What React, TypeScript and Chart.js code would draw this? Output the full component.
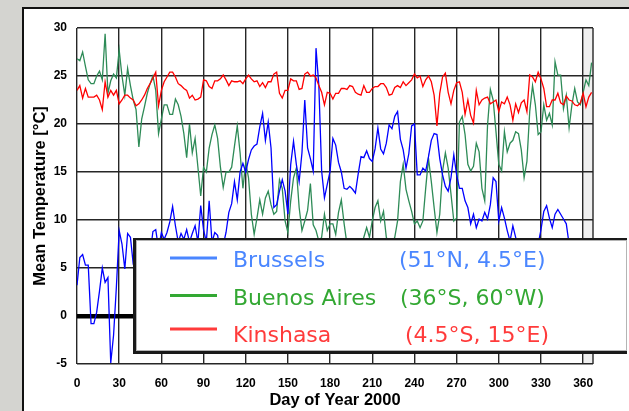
import { useEffect, useRef } from "react";
import { Chart, registerables } from "chart.js";

Chart.register(...registerables);

// Day of year (sample every 2 days)
const DAYS = [
  0, 2, 4, 6, 8, 10, 12, 14, 16, 18,
  20, 22, 24, 26, 28, 30, 32, 34, 36, 38,
  40, 42, 44, 46, 48, 50, 52, 54, 56, 58,
  60, 62, 64, 66, 68, 70, 72, 74, 76, 78,
  80, 82, 84, 86, 88, 90, 92, 94, 96, 98,
  100, 102, 104, 106, 108, 110, 112, 114, 116, 118,
  120, 122, 124, 126, 128, 130, 132, 134, 136, 138,
  140, 142, 144, 146, 148, 150, 152, 154, 156, 158,
  160, 162, 164, 166, 168, 170, 172, 174, 176, 178,
  180, 182, 184, 186, 188, 190, 192, 194, 196, 198,
  200, 202, 204, 206, 208, 210, 212, 214, 216, 218,
  220, 222, 224, 226, 228, 230, 232, 234, 236, 238,
  240, 242, 244, 246, 248, 250, 252, 254, 256, 258,
  260, 262, 264, 266, 268, 270, 272, 274, 276, 278,
  280, 282, 284, 286, 288, 290, 292, 294, 296, 298,
  300, 302, 304, 306, 308, 310, 312, 314, 316, 318,
  320, 322, 324, 326, 328, 330, 332, 334, 336, 338,
  340, 342, 344, 346, 348, 350, 352, 354, 356, 358,
  360, 362, 364, 366,
];

const BRUSSELS = [
  3.2, 6.1, 6.4, 5.3, 5.3, -0.8, -0.8, 0.4, 2.6, 5.0,
  3.5, 4.0, -4.9, -2.0, 3.0, 8.9, 7.5, 4.9, 8.6, 8.2,
  5.4, 5.0, 3.5, 5.5, 7.0, 4.5, 6.5, 8.8, 9.0, 7.0,
  8.7, 8.0, 8.7, 9.8, 11.4, 9.4, 7.7, 8.6, 8.0, 9.0,
  7.7, 8.6, 9.4, 7.7, 11.5, 9.0, 7.7, 12.0, 7.7, 8.7,
  8.4, 6.7, 7.4, 8.7, 10.8, 11.7, 14.0, 12.1, 15.0, 15.9,
  15.0, 16.3, 17.3, 17.7, 17.9, 19.7, 21.1, 18.3, 20.2, 17.5,
  11.3, 11.6, 13.0, 14.2, 13.0, 10.6, 15.8, 18.2, 15.8, 14.0,
  17.0, 22.5, 17.5, 16.4, 15.1, 27.9, 24.0, 15.1, 12.3, 13.7,
  15.1, 18.5, 17.8, 16.0, 15.0, 13.3, 13.2, 13.5, 13.2, 12.8,
  14.8, 16.6, 16.5, 17.2, 16.4, 16.1, 17.4, 19.6, 17.4, 16.9,
  18.0, 19.9, 19.5, 20.8, 21.3, 18.4, 17.3, 15.4, 16.9, 19.8,
  20.0, 14.7, 14.7, 15.4, 15.1, 16.6, 18.3, 19.0, 18.9, 16.4,
  14.7, 13.5, 13.0, 14.4, 16.8, 14.7, 13.3, 13.3, 12.0, 11.3,
  9.6, 10.6, 9.2, 10.1, 9.9, 10.8, 10.1, 11.6, 14.4, 14.0,
  9.9, 11.3, 10.2, 8.9, 7.8, 9.4, 8.2, 7.0, 6.0, 5.0,
  6.5, 5.5, 4.0, 6.0, 7.5, 9.0, 10.9, 11.5, 10.2, 9.2,
  10.6, 11.1, 10.6, 10.1, 9.6, 7.5, 6.0, 7.0, 5.0, 4.5,
  6.0, 5.5, 4.0, 3.5,
];

const BUENOS_AIRES = [
  26.8, 26.6, 27.5, 26.0, 24.6, 24.2, 24.2, 25.0, 25.5, 24.6,
  29.4, 23.2, 24.5, 25.2, 24.8, 27.7, 25.0, 23.0, 25.8, 24.0,
  22.5, 21.5, 17.6, 20.5, 21.8, 23.2, 24.2, 25.0, 23.5, 19.0,
  20.5, 22.0, 22.0, 21.0, 21.0, 22.6, 22.0, 20.8, 19.0, 16.5,
  20.0, 17.0, 18.5, 15.5, 12.5, 15.5, 15.0, 17.5, 18.9, 19.9,
  18.5, 15.5, 13.4, 15.0, 15.0, 15.5, 17.7, 19.8, 17.0, 13.3,
  16.0, 14.4, 10.6, 8.5, 10.2, 12.1, 10.6, 12.3, 13.0, 11.6,
  10.6, 10.9, 14.2, 13.3, 9.9, 8.7, 12.0, 14.4, 15.4, 11.3,
  8.9, 9.9, 11.0, 13.8, 9.5, 8.9, 7.8, 8.2, 10.6, 8.9,
  9.6, 9.6, 8.5, 10.8, 12.1, 9.6, 7.5, 6.5, 7.2, 5.5,
  6.8, 7.0, 8.2, 9.2, 8.2, 9.9, 11.3, 12.0, 9.9, 10.9,
  8.2, 7.5, 7.5, 8.2, 9.9, 14.0, 15.8, 13.2, 12.0, 10.9,
  9.6, 9.9, 9.2, 9.9, 13.3, 16.4, 14.0, 11.3, 8.7, 10.6,
  15.1, 17.0, 15.4, 12.7, 9.9, 10.2, 20.2, 20.8, 18.9, 15.8,
  15.1, 15.6, 18.0, 17.1, 13.3, 12.0, 19.9, 23.6, 22.5, 19.2,
  15.8, 15.1, 19.2, 17.1, 18.0, 18.3, 19.2, 19.0, 17.3, 14.4,
  16.1, 21.3, 24.0, 22.0, 18.9, 19.2, 22.0, 20.4, 21.1, 19.9,
  26.5, 25.1, 25.1, 21.6, 23.0, 19.6, 22.0, 23.7, 22.3, 22.0,
  23.3, 24.6, 24.0, 26.4,
];

const KINSHASA = [
  23.5, 24.0, 22.7, 23.7, 22.8, 22.8, 22.8, 23.0, 22.5, 21.5,
  24.4, 22.8, 23.5, 23.0, 23.5, 22.1, 22.5, 23.0, 23.0, 22.7,
  22.5, 21.9, 22.1, 22.5, 23.0, 23.7, 24.2, 24.8, 25.4, 21.9,
  23.5, 24.4, 24.9, 25.4, 25.4, 24.9, 24.2, 24.0, 23.7, 23.5,
  22.7, 23.0, 22.5, 22.6, 22.8, 24.6, 24.5, 23.9, 23.7, 24.5,
  24.5, 24.7, 25.1, 24.6, 24.0, 24.5, 24.4, 24.4, 24.5, 24.2,
  24.7, 25.1, 24.7, 24.4, 24.5, 23.9, 24.3, 23.8, 24.4, 24.4,
  25.2, 25.4, 23.2, 22.7, 23.5, 23.5, 24.7, 24.5, 24.5, 23.6,
  23.7, 25.2, 25.4, 25.0, 25.1, 24.8, 24.0, 23.3, 22.0, 23.3,
  23.2, 22.6, 23.2, 23.2, 23.7, 23.7, 23.6, 24.0, 23.9, 23.3,
  23.1, 23.0, 24.0, 23.3, 23.3, 23.7, 23.9, 23.9, 24.2, 24.2,
  23.8, 23.0, 23.1, 23.8, 24.0, 23.8, 24.4, 24.0, 24.3, 24.6,
  25.2, 24.8, 25.0, 23.9, 24.6, 25.0, 24.4, 23.0, 19.8, 23.2,
  24.9, 25.3, 23.3, 22.1, 23.5, 24.3, 24.4, 23.3, 21.0, 22.5,
  20.9, 20.1, 23.5, 22.0, 22.5, 22.7, 22.8, 22.1, 22.3, 22.5,
  21.3, 22.3, 22.1, 22.8, 22.0, 20.4, 22.1, 21.2, 22.2, 22.5,
  21.3, 25.1, 24.9, 24.4, 25.4, 24.7, 23.7, 21.8, 21.8, 22.5,
  22.5, 23.2, 22.2, 22.0, 22.9, 22.5, 22.4, 22.0, 21.9, 22.2,
  23.2, 21.8, 22.8, 23.3,
];

const SERIES_NAMES = ["Brussels", "Buenos Aires", "Kinshasa"];
const SERIES_COORDS = ["(51°N, 4.5°E)", "(36°S, 60°W)", "(4.5°S, 15°E)"];
const X_TICKS = [0, 30, 60, 90, 120, 150, 180, 210, 240, 270, 300, 330, 360];
const Y_TICKS = [-5, 0, 5, 10, 15, 20, 25, 30];
const X_TITLE = "Day of Year 2000";
const Y_TITLE = "Mean Temperature [°C]";

const LINE_COLORS = ["#0000ff", "#2e8b57", "#ff0000"];
const LEGEND_COLORS = ["#4a86ff", "#33a833", "#ff3b3b"];
const GRID = "#262626";
const FONT = "'Liberation Sans', Arial, sans-serif";

const framePlugin = {
  id: "frame",
  beforeDraw(chart: any) {
    const { ctx, width, height, chartArea, scales } = chart;
    ctx.save();
    ctx.fillStyle = "#d4d4d0";
    ctx.fillRect(0, 0, width, height);
    ctx.fillStyle = "#ffffff";
    ctx.fillRect(23, 8, width - 23, height - 8);
    ctx.fillStyle = "#111111";
    ctx.fillRect(22, 7, 2, height - 7);
    ctx.fillRect(22, 7, width - 22, 2);
    const x360 = scales.x.getPixelForValue(360);
    ctx.fillStyle = "#f0f0f0";
    ctx.fillRect(x360, chartArea.top, chartArea.right - x360, chartArea.bottom - chartArea.top);
    ctx.restore();
  },
  beforeDatasetsDraw(chart: any) {
    const { ctx, chartArea, scales } = chart;
    ctx.save();
    const y0 = scales.y.getPixelForValue(0);
    ctx.fillStyle = "#000000";
    ctx.fillRect(chartArea.left, y0 - 2, chartArea.right - chartArea.left, 4.5);
    ctx.strokeStyle = GRID;
    ctx.lineWidth = 1.4;
    ctx.beginPath();
    ctx.moveTo(chartArea.right, chartArea.top);
    ctx.lineTo(chartArea.right, chartArea.bottom);
    ctx.stroke();
    ctx.restore();
  },
  afterDraw(chart: any) {
    const { ctx } = chart;
    ctx.save();
    // legend box
    ctx.fillStyle = "#1a1a1a";
    ctx.fillRect(133, 238, 494, 2);
    ctx.fillRect(133, 238, 3, 116);
    ctx.fillRect(133, 351, 494, 3);
    ctx.fillStyle = "#ffffff";
    ctx.fillRect(136, 240, 491, 111);
    ctx.strokeStyle = "#b4b4b4";
    ctx.lineWidth = 1;
    ctx.strokeRect(136.5, 240.5, 490, 110);
    const lineY = [258, 295.5, 329];
    const textY = [267, 305, 342];
    const coordX = [399, 400, 405];
    ctx.font = '22px "DejaVu Sans"';
    ctx.textBaseline = "alphabetic";
    ctx.textAlign = "left";
    for (let i = 0; i < SERIES_NAMES.length; i++) {
      ctx.strokeStyle = LEGEND_COLORS[i];
      ctx.lineWidth = 3;
      ctx.beginPath();
      ctx.moveTo(170, lineY[i]);
      ctx.lineTo(217, lineY[i]);
      ctx.stroke();
      ctx.fillStyle = LEGEND_COLORS[i];
      ctx.fillText(SERIES_NAMES[i], 233, textY[i]);
      ctx.fillText(SERIES_COORDS[i], coordX[i], textY[i]);
    }
    ctx.restore();
  },
};

export default function App() {
  const ref = useRef<HTMLCanvasElement | null>(null);

  useEffect(() => {
    document.body.style.margin = "0";
    const canvas = ref.current;
    if (!canvas) return;
    const series = [BRUSSELS, BUENOS_AIRES, KINSHASA];
    const order = [1, 2, 0];
    const chart = new Chart(canvas, {
      type: "line",
      data: {
        datasets: series.map((vals, i) => ({
          label: SERIES_NAMES[i],
          data: DAYS.map((d, j) => ({ x: d, y: vals[j] })),
          borderColor: LINE_COLORS[i],
          borderWidth: 1.3,
          pointRadius: 0,
          tension: 0,
          fill: false,
          order: order[i],
        })),
      },
      options: {
        animation: false,
        responsive: false,
        maintainAspectRatio: false,
        layout: { padding: { left: 0, top: 28, right: 36, bottom: 0 } },
        plugins: { legend: { display: false }, tooltip: { enabled: false } },
        scales: {
          x: {
            type: "linear",
            min: 0,
            max: 367,
            afterBuildTicks: (scale: any) => {
              scale.ticks = X_TICKS.map((v) => ({ value: v }));
            },
            afterFit: (scale: any) => {
              scale.height = 47;
            },
            ticks: {
              color: "#000",
              padding: 12,
              font: { family: FONT, size: 12, weight: "bold" },
            },
            grid: { color: GRID, lineWidth: 1.4, drawTicks: false },
            border: { display: false },
            title: {
              display: true,
              text: X_TITLE,
              color: "#000",
              padding: { top: 0, bottom: 1 },
              font: { family: FONT, size: 16.5, weight: "bold" },
            },
          },
          y: {
            type: "linear",
            min: -5,
            max: 30,
            afterBuildTicks: (scale: any) => {
              scale.ticks = Y_TICKS.map((v) => ({ value: v }));
            },
            afterFit: (scale: any) => {
              scale.width = 77;
            },
            ticks: {
              color: "#000",
              padding: 10,
              font: { family: FONT, size: 12, weight: "bold" },
            },
            grid: { color: GRID, lineWidth: 1.4, drawTicks: false },
            border: { display: false },
            title: {
              display: true,
              text: Y_TITLE,
              color: "#000",
              padding: { top: 31, bottom: 0 },
              font: { family: FONT, size: 16.5, weight: "bold" },
            },
          },
        },
      },
      plugins: [framePlugin],
    });
    return () => chart.destroy();
  }, []);

  return (
    <div style={{ width: 629, height: 411, position: "relative" }}>
      <canvas ref={ref} width={629} height={411} style={{ display: "block" }} />
    </div>
  );
}
